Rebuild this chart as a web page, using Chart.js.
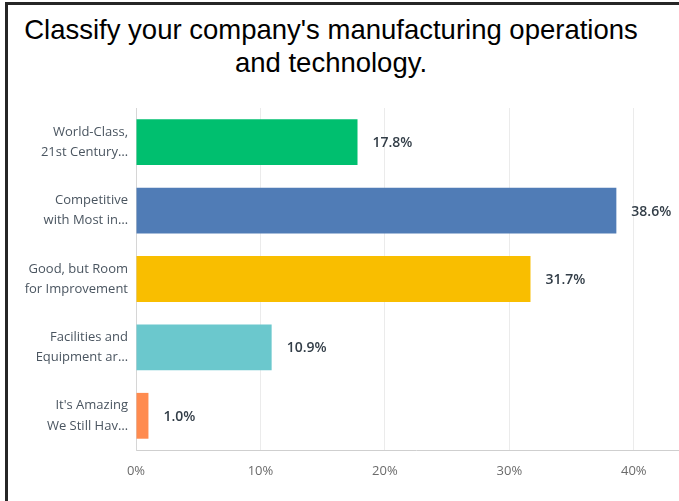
<!DOCTYPE html>
<html>
<head>
<meta charset="utf-8">
<script src="https://cdn.jsdelivr.net/npm/chart.js@4/dist/chart.umd.min.js"></script>
<style>
  html,body{margin:0;padding:0;background:#fff;overflow:hidden;width:679px;height:501px;}
  #frame{position:absolute;left:5px;top:2px;width:700px;height:520px;border-left:3px solid #262626;border-top:3px solid #262626;}
  #title{position:absolute;left:0;top:13px;width:662px;text-align:center;
         font:27.5px "Liberation Sans",Arial,sans-serif;line-height:33px;color:#000;}
  #wrap{position:absolute;left:0;top:0;width:700px;height:501px;}
</style>
</head>
<body>
<div id="frame"></div>
<div id="title">Classify your company's manufacturing operations<br>and technology.</div>
<div id="wrap"><canvas id="chart"></canvas></div>
<script>
/* ------------ data ------------ */
const CATEGORIES = [
  ['World-Class,','21st Century…'],
  ['Competitive','with Most in…'],
  ['Good, but Room','for Improvement'],
  ['Facilities and','Equipment ar…'],
  ["It's Amazing",'We Still Hav…']
];
const SHARES = [17.8, 38.6, 31.7, 10.9, 1.0];
const COLORS = ['#00bf6f','#507cb6','#f9be00','#6bc8cd','#ff8b4f'];
const X_TICKS = [0, 10, 20, 30, 40];

const FONT = '"Open Sans","Noto Sans",sans-serif';

/* value labels to the right of each bar */
const valueLabels = {
  id:'valueLabels',
  afterDatasetsDraw(chart){
    const {ctx} = chart;
    const meta = chart.getDatasetMeta(0);
    ctx.save();
    ctx.font = `600 14px ${FONT}`;
    ctx.fillStyle = '#333e48';
    ctx.textBaseline = 'middle';
    ctx.textAlign = 'left';
    meta.data.forEach((bar,i)=>{
      ctx.fillText(SHARES[i].toFixed(1)+'%', bar.x + 15, bar.y + 1);
    });
    ctx.restore();
  }
};

new Chart(document.getElementById('chart'),{
  type:'bar',
  data:{labels:CATEGORIES,datasets:[{data:SHARES,backgroundColor:COLORS,
        barPercentage:0.67,categoryPercentage:1}]},
  options:{
    indexAxis:'y',
    responsive:true,maintainAspectRatio:false,animation:false,
    layout:{padding:{top:108,right:4,left:0,bottom:0}},
    plugins:{legend:{display:false},tooltip:{enabled:false}},
    scales:{
      x:{
        min:0,max:45,
        afterFit(s){s.height = 51;},
        afterBuildTicks(s){s.ticks = X_TICKS.map(v=>({value:v}));},
        grid:{color:'#ebebeb',drawTicks:false},
        border:{color:'#cfcfcf'},
        ticks:{padding:13,color:'#6b6b6b',font:{family:FONT,size:13},
               callback:v=>v+'%'}
      },
      y:{
        afterFit(s){s.width = 136;},
        grid:{display:false,drawTicks:false},
        border:{color:'#d6d6d6'},
        ticks:{padding:8,color:'#4a5560',font:{family:FONT,size:13,lineHeight:1.55}}
      }
    }
  },
  plugins:[valueLabels]
});
</script>
</body>
</html>
